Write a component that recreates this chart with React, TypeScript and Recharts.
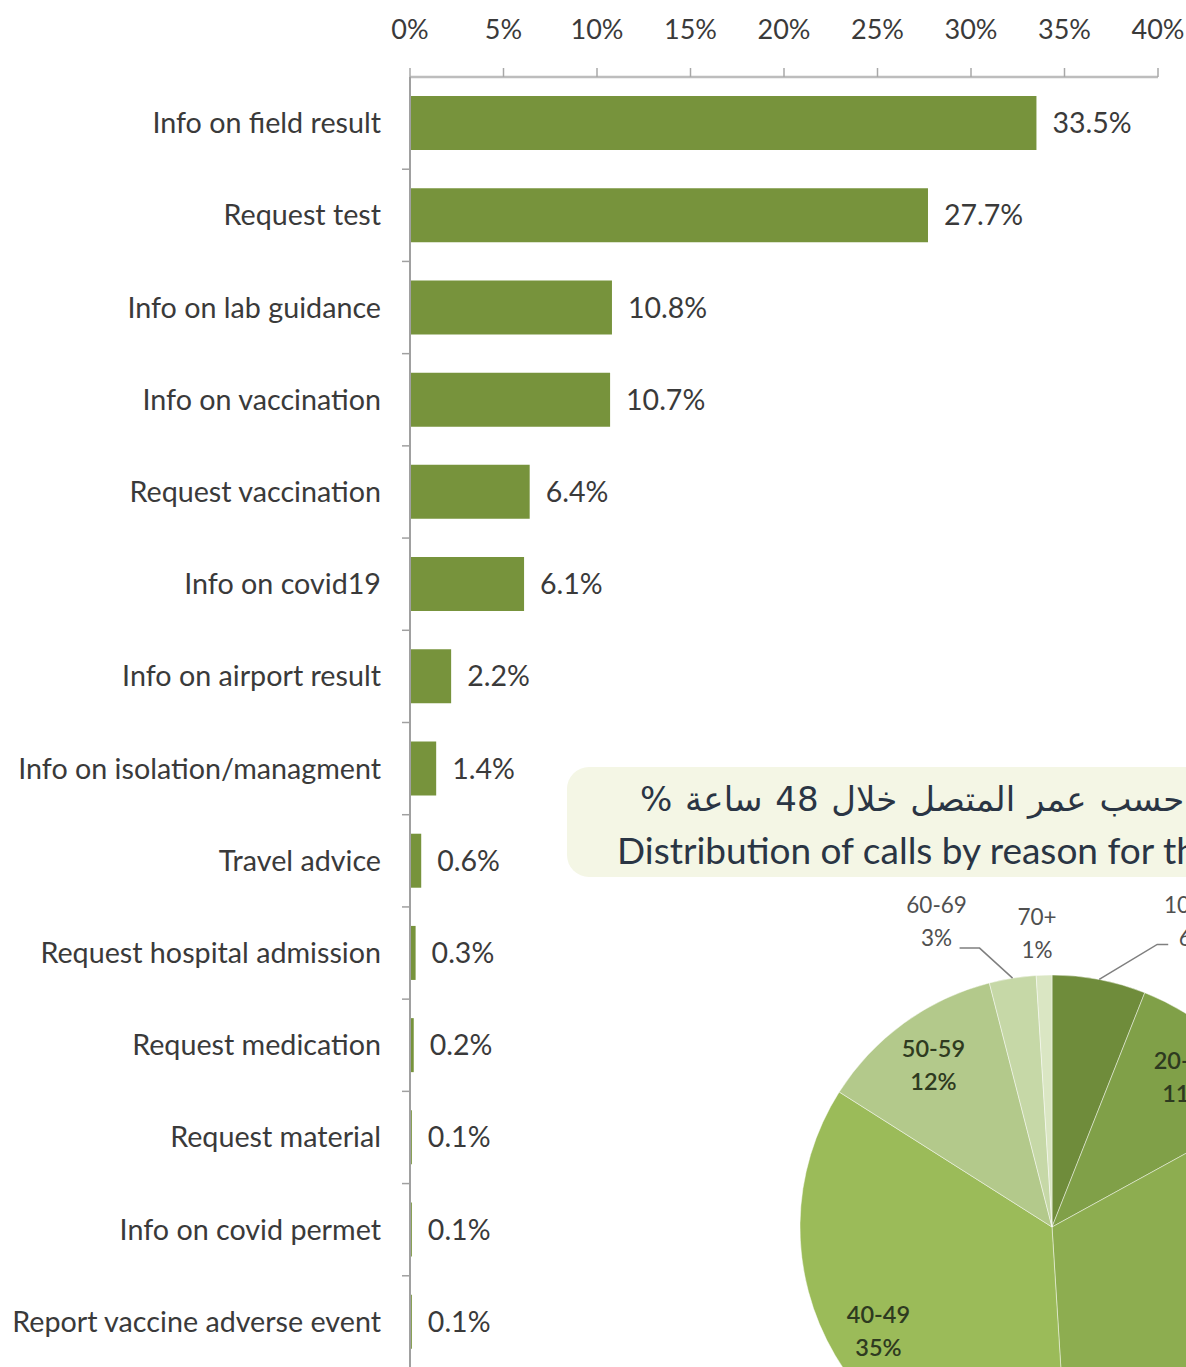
import { BarChart, Bar, XAxis, YAxis, LabelList, PieChart, Pie, Cell } from "recharts";

const categories = [
  "Info on field result",
  "Request test",
  "Info on lab guidance",
  "Info on vaccination",
  "Request vaccination",
  "Info on covid19",
  "Info on airport result",
  "Info on isolation/managment",
  "Travel advice",
  "Request hospital admission",
  "Request medication",
  "Request material",
  "Info on covid permet",
  "Report vaccine adverse event",
];
const shares = [33.5, 27.7, 10.8, 10.7, 6.4, 6.1, 2.2, 1.4, 0.6, 0.3, 0.2, 0.1, 0.1, 0.1];
const xTicks = [0, 5, 10, 15, 20, 25, 30, 35, 40];

const ageGroups = ["10-19", "20-29", "30-39", "40-49", "50-59", "60-69", "70+"];
const ageShares = [6, 11, 32, 35, 12, 3, 1];
const ageColors = ["#6F8C3B", "#80A048", "#8DAD50", "#9BBB59", "#B3C98B", "#C6D8A7", "#DAE6C3"];

const titleAr = "حسب عمر المتصل خلال 48 ساعة %";
const titleEn = "Distribution of calls by reason for the last 48 hours";

const barData = categories.map((name, i) => ({ name, value: shares[i] }));
const pieData = ageGroups.map((name, i) => ({ name, value: ageShares[i] }));

const W = 1186;
const H = 1367;
const Y_AXIS_W = 410;
const X_AXIS_H = 77;
const CHART_H = 1368;
const BAND_HALF = (CHART_H - X_AXIS_H) / categories.length / 2;
const FONT = "Lato, 'Open Sans', sans-serif";
const TEXT = "#3A3A3A";
const RAD = Math.PI / 180;

// outside label layout for the small slices (offsets from the slice's outer edge)
const outsideLabels: Record<string, { ex: number; ey: number; hx: number; tx: number; ty: number; line: boolean }> = {
  "10-19": { ex: 58, ey: -35, hx: 11, tx: 26, ty: -40, line: true },
  "60-69": { ex: -33, ey: -30, hx: -20, tx: -23, ty: -44, line: true },
  "70+": { ex: 0, ey: 0, hx: 0, tx: -7, ty: -59, line: false },
};

function CategoryTick(props: any) {
  const { y, payload } = props;
  return (
    <g>
      <line x1={Y_AXIS_W - 8} x2={Y_AXIS_W} y1={y + BAND_HALF} y2={y + BAND_HALF} stroke="#A0A0A0" strokeWidth={1.5} />
      <text x={Y_AXIS_W - 29} y={y} dy={10} textAnchor="end" fill={TEXT} fontSize={28.7} fontFamily={FONT}>
        {payload.value}
      </text>
    </g>
  );
}

function PieLabel(props: any) {
  const { cx, cy, midAngle, outerRadius, name, value } = props;
  const cos = Math.cos(-midAngle * RAD);
  const sin = Math.sin(-midAngle * RAD);
  const cfg = outsideLabels[name];
  if (!cfg) {
    const r = outerRadius * 0.8;
    const x = cx + r * cos;
    const y = cy + r * sin;
    return (
      <text x={x} y={y - 16} textAnchor="middle" dominantBaseline="central" fill="#2E3A20" fontSize={23.5} fontFamily={FONT} fontWeight={600}>
        <tspan x={x}>{name}</tspan>
        <tspan x={x} dy={33}>{value}%</tspan>
      </text>
    );
  }
  const ax = cx + outerRadius * cos;
  const ay = cy + outerRadius * sin;
  const elx = ax + cfg.ex;
  const ely = ay + cfg.ey;
  const endx = elx + cfg.hx;
  const tx = endx + cfg.tx;
  const ty = ely + cfg.ty;
  return (
    <g>
      {cfg.line && (
        <polyline points={`${ax},${ay} ${elx},${ely} ${endx},${ely}`} fill="none" stroke="#7F7F7F" strokeWidth={1.5} />
      )}
      <text x={tx} y={ty} textAnchor="middle" dominantBaseline="central" fill="#505050" fontSize={22.5} fontFamily={FONT}>
        <tspan x={tx}>{name}</tspan>
        <tspan x={tx} dy={33}>{value}%</tspan>
      </text>
    </g>
  );
}

export default function App() {
  return (
    <div style={{ position: "absolute", left: 0, top: 0, width: W, height: H, overflow: "hidden", background: "#fff" }}>
      <div style={{ position: "absolute", left: 0, top: 0 }}>
        <BarChart width={W} height={CHART_H} data={barData} layout="vertical" margin={{ top: 0, right: 28, bottom: 0, left: 0 }}>
          <XAxis
            type="number"
            orientation="top"
            domain={[0, 40]}
            ticks={xTicks}
            interval={0}
            height={X_AXIS_H}
            tickFormatter={(v) => `${v}%`}
            axisLine={{ stroke: "#BDBDBD", strokeWidth: 2.5 }}
            tickLine={{ stroke: "#A8A8A8", strokeWidth: 1.5 }}
            tickSize={9}
            tickMargin={29}
            tick={{ fill: TEXT, fontSize: 27, fontFamily: FONT }}
          />
          <YAxis
            type="category"
            dataKey="name"
            width={Y_AXIS_W}
            interval={0}
            axisLine={{ stroke: "#A0A0A0", strokeWidth: 2 }}
            tickLine={false}
            tick={<CategoryTick />}
          />
          <Bar dataKey="value" fill="#77933C" barSize={54} isAnimationActive={false}>
            <LabelList
              dataKey="value"
              position="right"
              offset={16}
              formatter={(v: any) => `${v}%`}
              fill={TEXT}
              fontSize={28.5}
              fontFamily={FONT}
            />
          </Bar>
        </BarChart>
      </div>

      <div
        style={{
          position: "absolute",
          left: 567,
          top: 767,
          width: 760,
          height: 110,
          borderRadius: 22,
          background: "#F4F6E5",
        }}
      />
      <div
        dir="rtl"
        style={{
          position: "absolute",
          left: 640,
          top: 779,
          whiteSpace: "nowrap",
          fontFamily: "'DejaVu Sans', sans-serif",
          fontSize: 34,
          wordSpacing: 2,
          color: "#2A3544",
        }}
      >
        {titleAr}
      </div>
      <div
        style={{
          position: "absolute",
          left: 617,
          top: 827,
          whiteSpace: "nowrap",
          fontFamily: FONT,
          fontSize: 37,
          color: "#2A3544",
        }}
      >
        {titleEn}
      </div>

      <div style={{ position: "absolute", left: 700, top: 860 }}>
        <PieChart width={704} height={734}>
          <Pie
            data={pieData}
            dataKey="value"
            nameKey="name"
            cx={347}
            cy={362}
            outerRadius={252}
            startAngle={90}
            endAngle={-270}
            stroke="rgba(255,255,255,0.45)"
            strokeWidth={1}
            label={<PieLabel />}
            labelLine={false}
            isAnimationActive={false}
          >
            {pieData.map((d, i) => (
              <Cell key={d.name} fill={ageColors[i]} />
            ))}
          </Pie>
        </PieChart>
      </div>
    </div>
  );
}
